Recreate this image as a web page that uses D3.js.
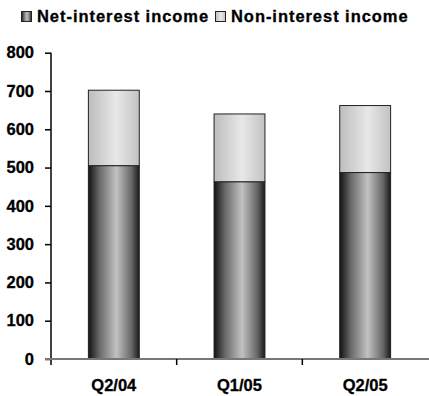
<!DOCTYPE html>
<html><head><meta charset="utf-8">
<script src="https://cdn.jsdelivr.net/npm/d3@7"></script>
<style>body{margin:0;background:#fff}svg{display:block;font-family:"Liberation Sans",Arial,sans-serif;font-weight:bold}</style>
</head><body><svg id="c" width="429" height="396"></svg>
<script>
const categories = ["Q2/04", "Q1/05", "Q2/05"];
const netInterest = [505, 463, 487];
const nonInterest = [197, 177, 175];
const seriesNames = ["Net-interest income", "Non-interest income"];
const yTicks = [0, 100, 200, 300, 400, 500, 600, 700, 800];

const svg = d3.select("#c");
const m = {l: 51, r: 1, t: 52.7, b: 37};
const W = 429, H = 396;
const x = d3.scaleBand().domain(categories).range([m.l, W - m.r]).paddingInner(0.595).paddingOuter(0.2975);
const y = d3.scaleLinear().domain([0, 800]).range([H - m.b, m.t]);

const defs = svg.append("defs");
function grad(id, stops) {
  const g = defs.append("linearGradient").attr("id", id).attr("x1", "0%").attr("x2", "100%").attr("y1", "0").attr("y2", "0");
  stops.forEach(s => g.append("stop").attr("offset", s[0]).attr("stop-color", s[1]));
}
grad("gDark", [["0%", "#121212"], ["22%", "#6a6a6a"], ["55%", "#c2c2c2"], ["85%", "#666"], ["100%", "#1a1a1a"]]);
grad("gLight", [["0%", "#bdbdbd"], ["55%", "#e8e8e8"], ["100%", "#c2c2c2"]]);

const stack = categories.map((c, i) => ({c, a: netInterest[i], b: nonInterest[i]}));
const g = svg.append("g");
g.selectAll("rect.a").data(stack).join("rect").attr("class", "a")
  .attr("x", d => x(d.c)).attr("width", x.bandwidth())
  .attr("y", d => y(d.a)).attr("height", d => y(0) - y(d.a))
  .attr("fill", "url(#gDark)").attr("stroke", "#222").attr("stroke-width", 1);
g.selectAll("rect.b").data(stack).join("rect").attr("class", "b")
  .attr("x", d => x(d.c)).attr("width", x.bandwidth())
  .attr("y", d => y(d.a + d.b)).attr("height", d => y(d.a) - y(d.a + d.b))
  .attr("fill", "url(#gLight)").attr("stroke", "#222").attr("stroke-width", 1);

// y axis
const ya = svg.append("g").attr("transform", `translate(${m.l},0)`)
  .call(d3.axisLeft(y).tickValues(yTicks).tickSize(6).tickPadding(11).tickSizeOuter(0));
ya.select(".domain").remove();
ya.append("line").attr("x1", 0).attr("x2", 0).attr("y1", y(800)).attr("y2", y(0) + 6).attr("stroke", "#000").attr("stroke-width", 1.5);
ya.selectAll(".tick line").attr("stroke", "#000").attr("stroke-width", 1.5);
ya.selectAll("text").attr("font-size", "16.5px").attr("fill", "#000").attr("font-weight", "bold")
  .attr("stroke", "#000").attr("stroke-width", 0.3);

// x axis
const xa = svg.append("g").attr("transform", `translate(0,${y(0)})`);
xa.append("line").attr("x1", m.l - 6).attr("x2", W).attr("y1", 0).attr("y2", 0).attr("stroke", "#777").attr("stroke-width", 2);
const seps = categories.slice(1).map(c => x(c) - x.step() * x.paddingInner() / 2);
xa.selectAll("line.sep").data(seps).join("line").attr("class", "sep")
  .attr("x1", d => d).attr("x2", d => d).attr("y1", 0).attr("y2", 6).attr("stroke", "#000").attr("stroke-width", 1.5);
xa.selectAll("text").data(categories).join("text")
  .attr("x", d => x(d) + x.bandwidth() / 2).attr("y", 32)
  .attr("text-anchor", "middle").attr("font-size", "16.5px").attr("fill", "#000")
  .attr("stroke", "#000").attr("stroke-width", 0.3).text(d => d);

// legend
const leg = svg.append("g");
const legX = [21, 215];
const legFill = ["url(#gDark)", "url(#gLight)"];
seriesNames.forEach((n, i) => {
  leg.append("rect").attr("x", legX[i] + 0.5).attr("y", 11.5).attr("width", 10).attr("height", 10)
    .attr("fill", legFill[i]).attr("stroke", "#222").attr("stroke-width", 1);
  leg.append("text").attr("x", legX[i] + 16).attr("y", 22).attr("font-size", "16.5px")
    .attr("letter-spacing", "0.95px").attr("fill", "#000")
    .attr("stroke", "#000").attr("stroke-width", 0.3).text(n);
});
</script></body></html>
